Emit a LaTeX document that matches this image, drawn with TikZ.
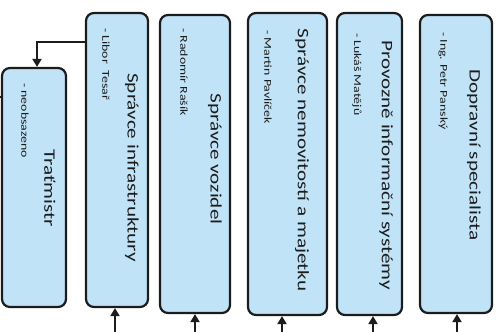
\documentclass[tikz,border=0pt]{standalone}
\usepackage{fontspec}
\setmainfont{Carlito}
\usepackage{graphicx}
\usetikzlibrary{arrows.meta,positioning}
\definecolor{unitblue}{RGB}{193,227,247}
\definecolor{inkgray}{RGB}{28,28,28}
\newcommand{\wide}[1]{\scalebox{1.32}[1]{#1}}
\tikzset{
	unit/.style={
		draw=inkgray,
		line width=2.2pt,
		fill=unitblue,
		rounded corners=8pt,
		inner sep=0pt
	},
	unitname/.style={
		rotate=-90,
		inner sep=0pt,
		text=inkgray,
		font=\fontsize{16}{19}\selectfont
	},
	holder/.style={
		rotate=-90,
		anchor=west,
		inner sep=0pt,
		text=inkgray,
		font=\fontsize{10.5}{12}\selectfont
	},
	feed/.style={
		draw=inkgray,
		line width=2.2pt,
		-{Triangle[width=9pt,length=8pt]}
	},
	link/.style={
		draw=inkgray,
		line width=2.2pt
	}
}

\begin{document}
\begin{tikzpicture}[x=1pt,y=-1pt]
	\useasboundingbox (0,0) rectangle (498,332);

	\node[unit, minimum width=64pt, minimum height=239pt] (trat) at (34,187.5) {};
	\node[unit, minimum width=62pt, minimum height=294pt] (infra) at (117,160) {};
	\node[unit, minimum width=70pt, minimum height=298pt] (vozidla) at (195,164) {};
	\node[unit, minimum width=79pt, minimum height=302pt] (majetek) at (287.5,164) {};
	\node[unit, minimum width=65pt, minimum height=302pt] (provoz) at (369.5,164) {};
	\node[unit, minimum width=72pt, minimum height=298pt] (doprava) at (456,164) {};

	\node[unitname] (tratT) at (50,188) {\wide{Traťmistr}};
	\node[unitname] (infraT) at (132,167.5) {\wide{Správce infrastruktury}};
	\node[unitname] (vozidlaT) at (215,159) {\wide{Správce vozidel}};
	\node[unitname] (majetekT) at (302,160) {\wide{Správce nemovitostí a majetku}};
	\node[unitname] (provozT) at (386,165) {\wide{Provozně informační systémy}};
	\node[unitname] (dopravaT) at (474,155) {\wide{Dopravní specialista}};

	\node[holder] (tratP) at (25,83) {\wide{- neobsazeno}};
	\node[holder] (infraP) at (106,28) {\wide{- Libor\enspace Tesař}};
	\node[holder] (vozidlaP) at (184,28) {\wide{- Radomír Rašík}};
	\node[holder] (majetekP) at (268,30) {\wide{- Martin Pavlíček}};
	\node[holder] (provozP) at (357,33) {\wide{- Lukáš Matějů}};
	\node[holder] (dopravaP) at (443,32) {\wide{- Ing. Petr Panský}};

	% vstupy zdola
	\coordinate (in1) at (115,332);
	\coordinate (in2) at (195,332);
	\coordinate (in3) at (282,332);
	\coordinate (in4) at (373,332);
	\coordinate (in5) at (457,332);
	\draw[feed] (in1) -- (in1 |- infra.south);
	\draw[feed] (in2) -- (in2 |- vozidla.south);
	\draw[feed] (in3) -- (in3 |- majetek.south);
	\draw[feed] (in4) -- (in4 |- provoz.south);
	\draw[feed] (in5) -- (in5 |- doprava.south);

	\draw[feed] (infra.west |- 0,42) -| ([xshift=3pt]trat.north);
	\coordinate (ext) at (0,97);
	\draw[link] (ext) -- (ext -| trat.west);
\end{tikzpicture}
\end{document}
